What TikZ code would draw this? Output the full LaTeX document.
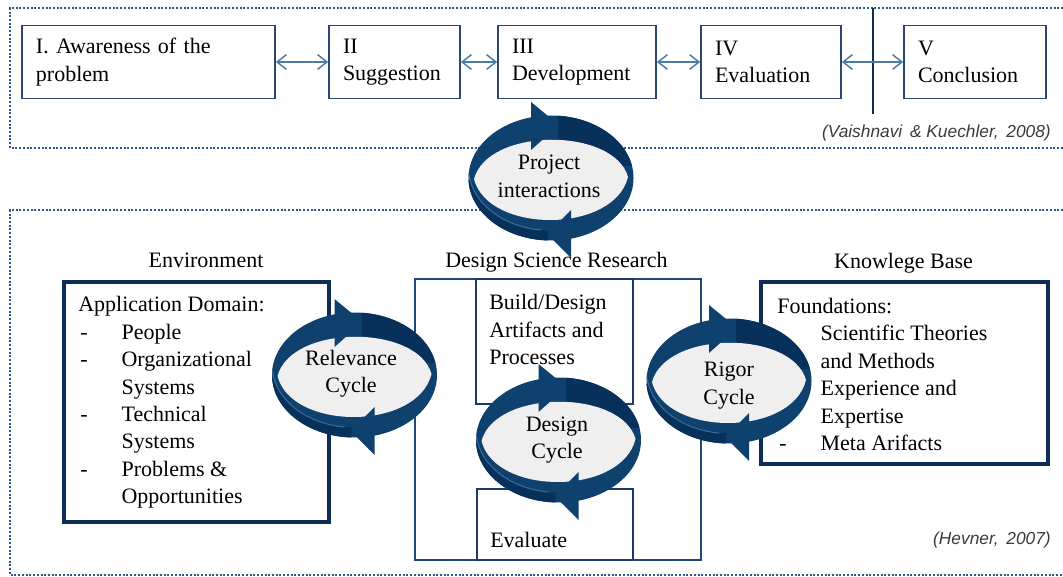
\documentclass[tikz,border=0pt]{standalone}
\usepackage{fontspec}
\setmainfont{Liberation Serif}
\newfontfamily\citefont{Liberation Sans}
\usetikzlibrary{arrows.meta}
\definecolor{dotc}{HTML}{2B5B8C}
\definecolor{boxc}{HTML}{2A4674}
\definecolor{arrc}{HTML}{4C7BA3}
\definecolor{navy}{HTML}{0F2C57}
\definecolor{dsrc}{HTML}{1D4A7A}
\definecolor{innc}{HTML}{1A3A6A}
\definecolor{cycc}{HTML}{0E416E}
\definecolor{cycd}{HTML}{07305A}
\definecolor{cycl}{HTML}{3A6A98}
\definecolor{cycin}{HTML}{EFEFEF}
\definecolor{citec}{HTML}{3A3A3A}
\newcommand\dashitem[1]{\makebox[32.5pt][l]{\hspace{1.5pt}-}#1}
\newcommand\itemind{\hspace*{32.5pt}}
\tikzset{
  pics/ringarrows/.style={code={
    \fill[cycc] (0,0) ellipse [x radius=82.5, y radius=62.5];
    \begin{scope}
      \clip (0,0) ellipse [x radius=82.5, y radius=62.5];
      \fill[cycd] (7,-75) rectangle (90,-12);
      \begin{scope}
        \clip (-90,3) rectangle (-3,75);
        \fill[cycd, even odd rule] (0,0) ellipse [x radius=82.5, y radius=62.5]
             (0,-10) ellipse [x radius=82.5, y radius=62.5];
      \end{scope}
      \draw[cycl, line width=0.8pt] (-82.5,-10) arc [start angle=180, end angle=97, x radius=82.5, y radius=62.5];
    \end{scope}
    \fill[cycin] (-77,1) .. controls (-63,-51) and (63,-51) .. (77,-1)
                        .. controls (63,56) and (-63,56) .. cycle;
    \fill[cycc] (-20,-76) -- (8,-53) -- (-20,-28) -- cycle;
    \fill[cycc] (20,32) -- (-4,56) -- (20,80) -- cycle;
  }}
}
\begin{document}
\begin{tikzpicture}[x=0.75pt,y=-0.75pt,
  every node/.style={font=\fontsize{16.5}{20.6}\selectfont, text=black},
  topbox/.style={draw=boxc, line width=1.3pt, minimum height=54.75pt, inner xsep=10.5pt, align=left},
  biarrow/.style={arrc, line width=1.1pt, {Straight Barb[length=7pt,width=11pt]}-{Straight Barb[length=7pt,width=11pt]}},
  dotline/.style={dotc, line width=1.5pt, dash pattern=on 1.5pt off 1.3pt},
  heavybox/.style={draw=navy, line width=3pt},
  dsrbox/.style={draw=dsrc, line width=2pt},
  innerbox/.style={draw=innc, line width=1.5pt},
  plain/.style={inner sep=0pt, align=left},
  cite/.style={font=\citefont\itshape\fontsize{13}{15}\selectfont, text=citec, inner sep=0pt},
  cyctext/.style={align=center, inner sep=0pt}
]
\useasboundingbox (0,0) rectangle (1063,577);
% dotted frames
\draw[dotline] (1063,8) -- (10,8) -- (10,148) -- (1063,148);
\draw[dotline] (1063,210) -- (10,210) -- (10,575) -- (1063,575);
% vertical divider
\draw[navy, line width=1.5pt] (873,8) -- (873,114);
% top process boxes
\node[topbox, text width=168.75pt] (b1) at (148.5,62) {I. Awareness of the\\problem};
\node[topbox, text width=77.25pt] (b2) at (394.5,62) {II\\Suggestion};
\node[topbox, text width=97.5pt] (b3) at (577,62) {III\\Development};
\node[topbox, text width=84pt] (b4) at (771,62) {IV\\Evaluation};
\node[topbox, text width=85.5pt] (b5) at (975,62) {V\\Conclusion};
\draw[biarrow] (b1.east) -- (b2.west);
\draw[biarrow] (b2.east) -- (b3.west);
\draw[biarrow] (b3.east) -- (b4.west);
\draw[biarrow] (b4.east) -- (b5.west);
\node[cite, anchor=east] (cite1) at (1051,133) {(Vaishnavi \,\& Kuechler, \,2008)};
% lower section labels
\node (envlbl) at (206,260) {Environment};
\node (dsrlbl) at (556.5,262) {Design Science Research};
\node (kblbl) at (903.5,263) {Knowlege Base};
% boxes
\node[heavybox, minimum width=198.75pt, minimum height=180pt] (env) at (196.5,402) {};
\node[dsrbox, minimum width=214.5pt, minimum height=210.75pt] (dsr) at (558,419.5) {};
\node[innerbox, minimum width=117.75pt, minimum height=93.75pt] (build) at (554.5,341.5) {};
\node[innerbox, minimum width=117pt, minimum height=53.25pt] (eval) at (555,524.5) {};
\node[heavybox, minimum width=215.25pt, minimum height=136.5pt] (kb) at (904.5,373) {};
% box texts
\node[plain, anchor=west] (envtxt) at (78,402.5) {Application Domain:\\
  \dashitem{People}\\
  \dashitem{Organizational}\\
  \itemind Systems\\
  \dashitem{Technical}\\
  \itemind Systems\\
  \dashitem{Problems \&}\\
  \itemind Opportunities};
\node[plain, anchor=west] (buildtxt) at (489,329.5) {Build/Design\\Artifacts and\\Processes};
\node[plain, anchor=west] (evaltxt) at (490,540) {Evaluate};
\node[plain, anchor=west] (kbtxt) at (777,374.5) {Foundations:\\
  \itemind Scientific Theories\\
  \itemind and Methods\\
  \itemind Experience and\\
  \itemind Expertise\\
  \dashitem{Meta Arifacts}};
\node[cite, anchor=east] (cite2) at (1051,540) {(Hevner, \,2007)};
% cycles
\pic (proj) at (551,178) {ringarrows};
\node[cyctext] (projtxt) at (549,176.5) {Project\\interactions};
\pic (rel) at (354.5,375) {ringarrows};
\node[cyctext] (reltxt) at (351,373.5) {Relevance\\Cycle};
\pic (des) at (558.5,440) {ringarrows};
\node[cyctext] (destxt) at (557,440) {Design\\Cycle};
\pic (rig) at (729,381) {ringarrows};
\node[cyctext] (rigtxt) at (729,385.5) {Rigor\\Cycle};
\end{tikzpicture}
\end{document}
